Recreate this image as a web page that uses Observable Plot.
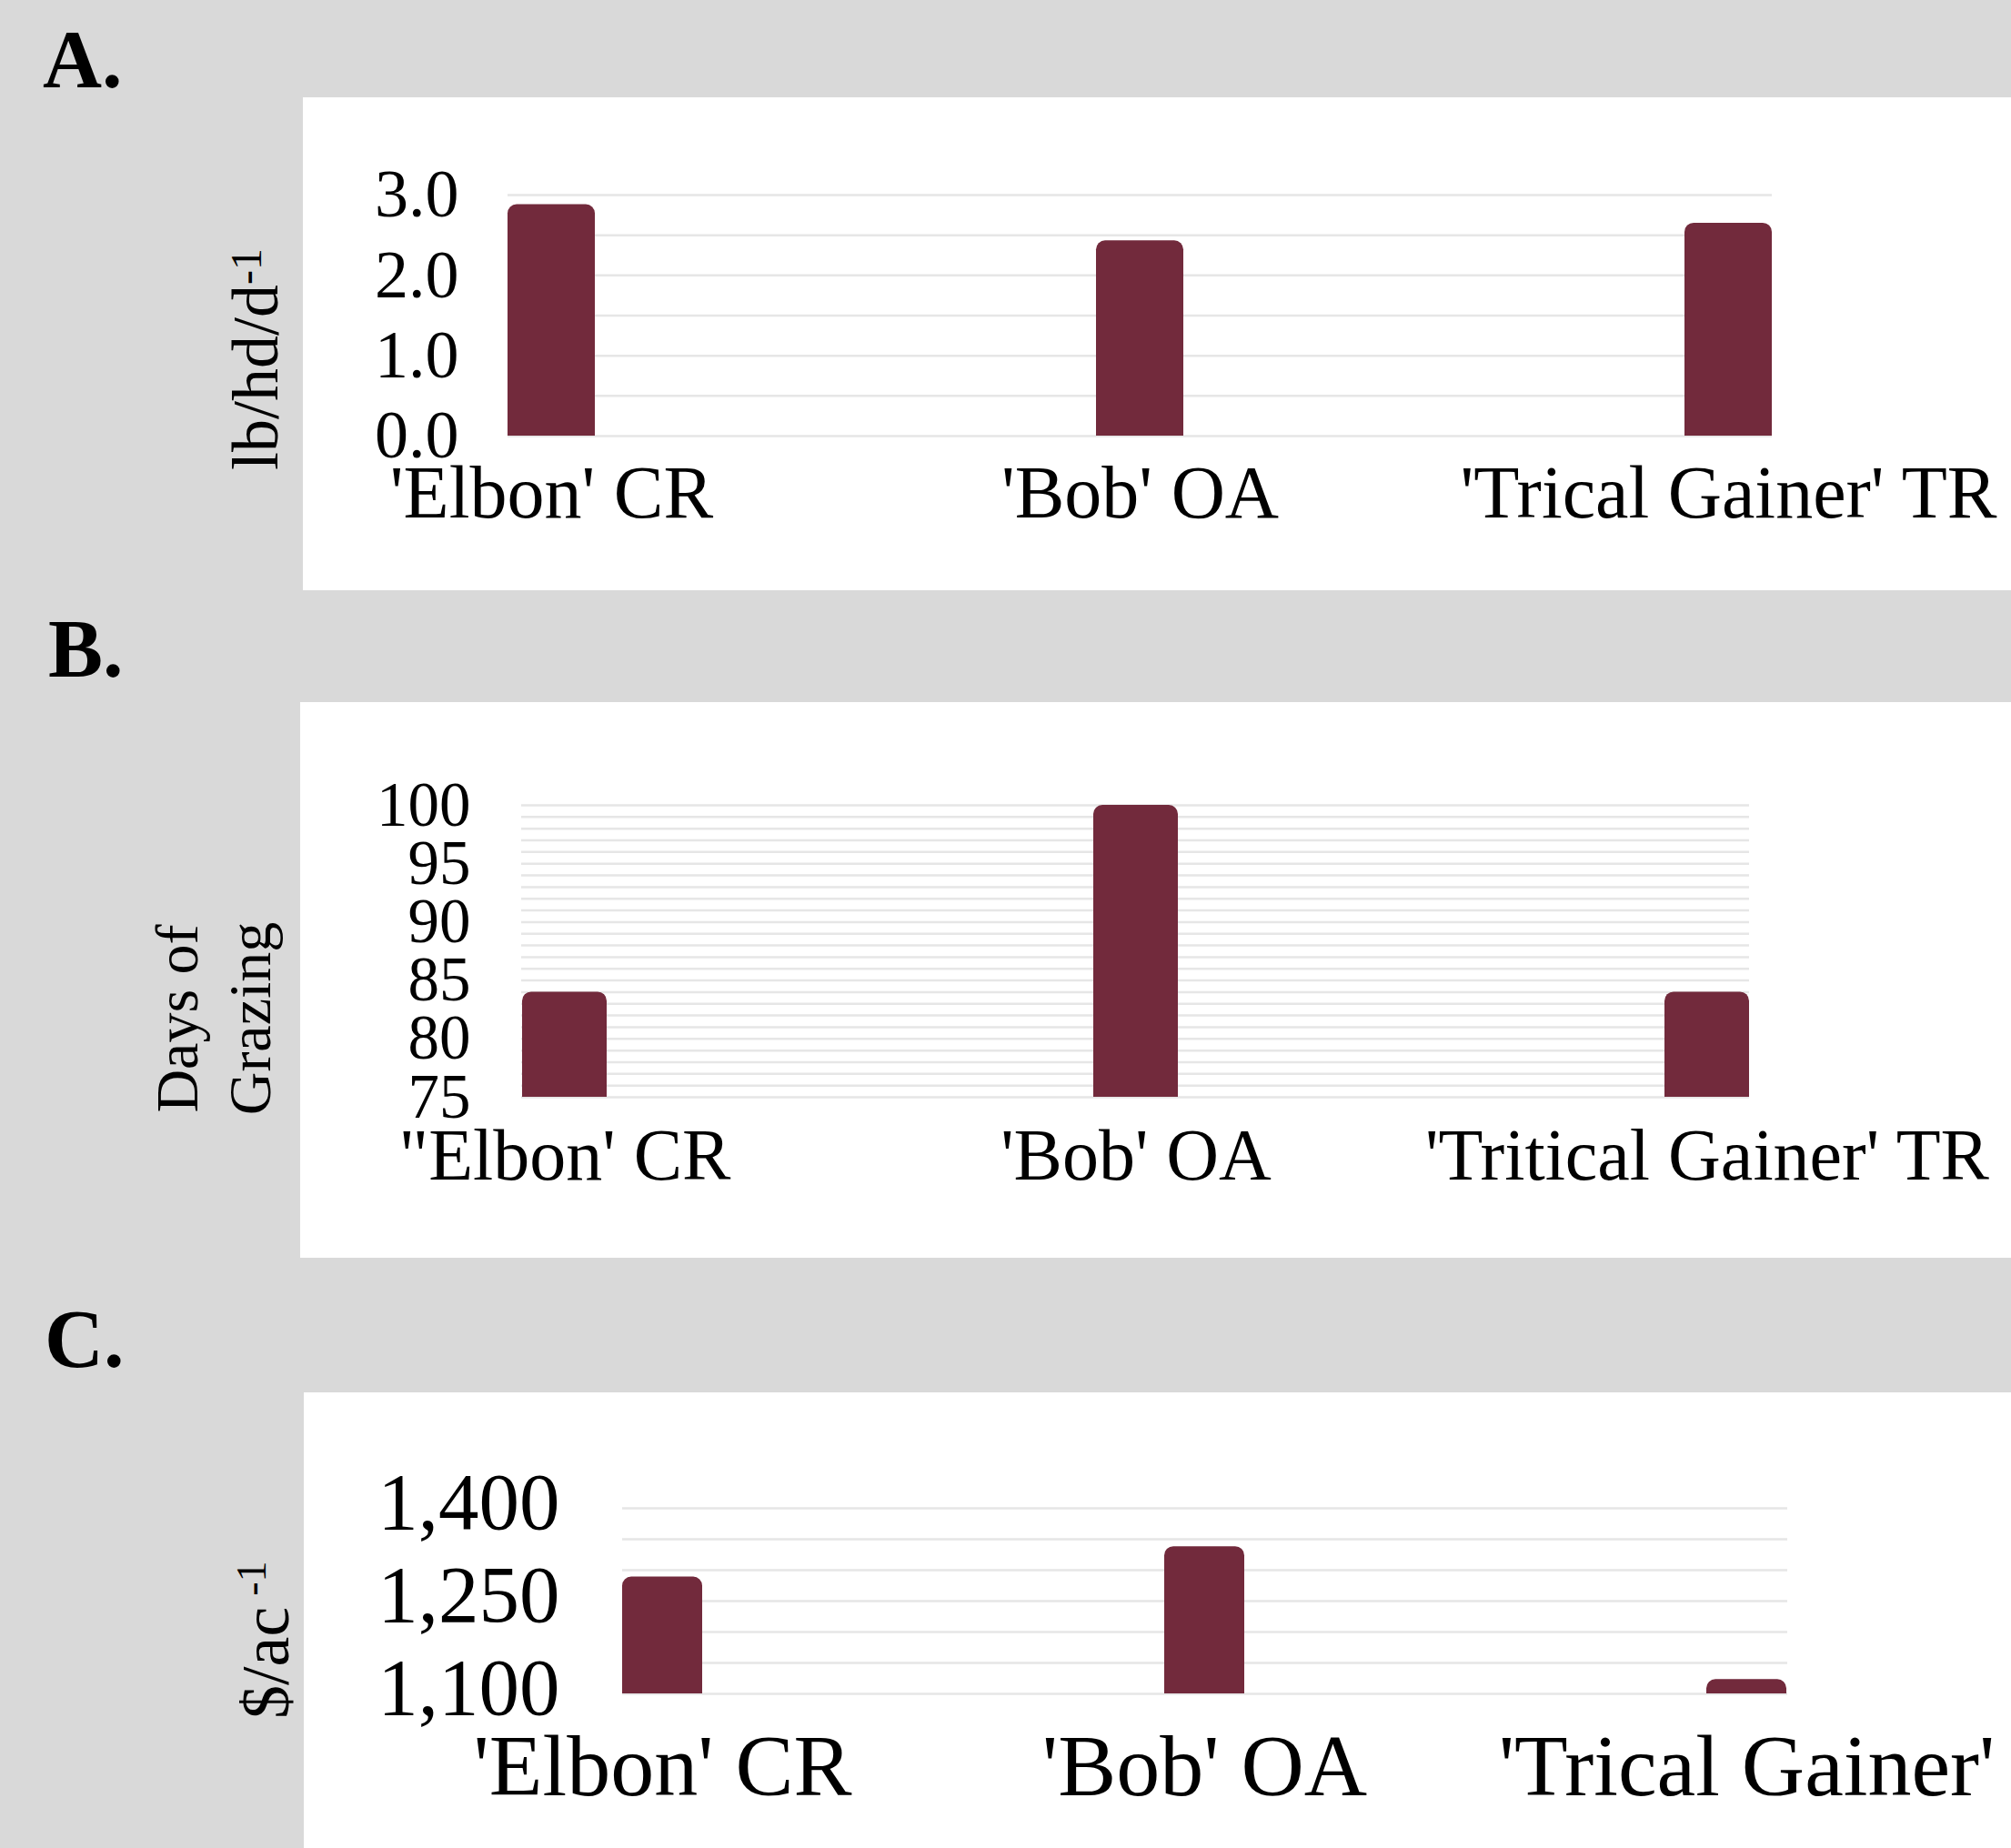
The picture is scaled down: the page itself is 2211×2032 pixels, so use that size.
<!DOCTYPE html>
<html>
<head>
<meta charset="utf-8">
<script src="https://cdn.jsdelivr.net/npm/d3@7"></script>
<script src="https://cdn.jsdelivr.net/npm/@observablehq/plot@0.6"></script>
<style>
html, body { margin: 0; padding: 0; background: #d9d9d9; width: 2211px; height: 2032px; overflow: hidden; }
.panel { position: absolute; background: #ffffff; }
.tag { position: absolute; font-family: "Liberation Serif", "Times New Roman", serif; font-weight: bold; font-size: 90px; line-height: 90px; color: #000; white-space: nowrap; }
svg { position: absolute; left: 0; }
</style>
</head>
<body>
<script>
// ---- Data ----
const catsA = ["'Elbon' CR", "'Bob' OA", "'Trical Gainer' TR"];
const gainA = [2.88, 2.43, 2.65];
const yTicksA = [0, 1, 2, 3];
const gridA = [0, 0.5, 1, 1.5, 2, 2.5, 3];

const catsB = ["\"Elbon' CR", "'Bob' OA", "'Tritical Gainer' TR"];
const daysB = [84, 100, 84];
const yTicksB = [75, 80, 85, 90, 95, 100];
const gridB = [75, 76, 77, 78, 79, 80, 81, 82, 83, 84, 85, 86, 87, 88, 89, 90, 91, 92, 93, 94, 95, 96, 97, 98, 99, 100];

const catsC = ["'Elbon' CR", "'Bob' OA", "'Trical Gainer'"];
const returnC = [1289, 1338, 1123];
const yTicksC = [1100, 1250, 1400];
const gridC = [1100, 1150, 1200, 1250, 1300, 1350, 1400];

const SERIF = "'Liberation Serif', 'Times New Roman', serif";
const BAR = "#722a3c";

function addDiv(cls, css, text) {
  const d = document.createElement("div");
  d.className = cls;
  Object.assign(d.style, css);
  if (text) d.textContent = text;
  document.body.appendChild(d);
  return d;
}

function panel(cfg) {
  const data = cfg.cats.map((c, i) => ({cat: c, v: cfg.vals[i], base: cfg.domain[0]}));
  const svg = Plot.plot({
    width: 2211,
    height: cfg.height,
    marginLeft: cfg.ml, marginRight: cfg.mr, marginTop: cfg.mt, marginBottom: cfg.mb,
    style: {fontFamily: SERIF, background: "transparent", color: "#000", overflow: "visible"},
    x: {type: "band", domain: cfg.cats, paddingInner: 0.852, paddingOuter: 0, align: 0.5},
    y: {domain: cfg.domain},
    marks: [
      Plot.gridY(cfg.grid, {stroke: "#e6e6e6", strokeOpacity: 1, strokeWidth: 2.5}),
      Plot.barY(data, {x: "cat", y1: "base", y2: "v", fill: BAR, ry1: 10}),
      Plot.axisY(cfg.ticks, {tickSize: 0, tickPadding: cfg.yPad, tickFormat: cfg.fmt, fontSize: cfg.yFont, dy: cfg.yDy || 0, label: null, fill: "#000"}),
      Plot.axisX({tickSize: 0, tickPadding: cfg.xPad, fontSize: cfg.xFont, label: null, fill: "#000"})
    ]
  });
  svg.style.top = cfg.top + "px";
  svg.style.left = "0px";
  svg.style.position = "absolute";
  svg.style.maxWidth = "none";
  document.body.appendChild(svg);
  return d3.select(svg);
}

// White panels
addDiv("panel", {left: "333px", top: "107px", width: "1878px", height: "542px"});
addDiv("panel", {left: "330px", top: "772px", width: "1881px", height: "611px"});
addDiv("panel", {left: "334px", top: "1531px", width: "1877px", height: "501px"});

// Panel tags
addDiv("tag", {left: "47px", top: "21px"}, "A.");
addDiv("tag", {left: "53px", top: "669px"}, "B.");
addDiv("tag", {left: "49px", top: "1428px"}, "C.");

// Panel A
const sA = panel({
  cats: catsA, vals: gainA, domain: [0, 3], ticks: yTicksA, grid: gridA,
  fmt: d => d.toFixed(1),
  top: 107, height: 542, ml: 558, mr: 263, mt: 107, mb: 170,
  yFont: 74, yPad: 54, xFont: 82, xPad: 31
});
const tA = sA.append("text")
  .attr("transform", "translate(305,410) rotate(-90)")
  .attr("font-family", SERIF).attr("font-size", 72).attr("fill", "#000").attr("text-anchor", "start");
tA.append("tspan").text("lb/hd/d");
tA.append("tspan").attr("font-size", 48).attr("dy", -18).text("-1");

// Panel B
const sB = panel({
  cats: catsB, vals: daysB, domain: [75, 100], ticks: yTicksB, grid: gridB,
  fmt: d => String(d),
  top: 772, height: 611, ml: 573, mr: 288, mt: 113, mb: 177,
  yFont: 69, yPad: 56, xFont: 80, xPad: 34
});
sB.append("text")
  .attr("transform", "translate(217,348) rotate(-90)")
  .attr("font-family", SERIF).attr("font-size", 66).attr("fill", "#000").attr("text-anchor", "middle")
  .text("Days of");
sB.append("text")
  .attr("transform", "translate(297,348) rotate(-90)")
  .attr("font-family", SERIF).attr("font-size", 66).attr("fill", "#000").attr("text-anchor", "middle")
  .text("Grazing");

// Panel C
const sC = panel({
  cats: catsC, vals: returnC, domain: [1100, 1400], ticks: yTicksC, grid: gridC,
  fmt: d => d3.format(",")(d),
  top: 1531, height: 501, ml: 684, mr: 246, mt: 127, mb: 170,
  yFont: 89, yPad: 69, yDy: -6, xFont: 96, xPad: 43
});
const tC = sC.append("text")
  .attr("transform", "translate(317,359) rotate(-90)")
  .attr("font-family", SERIF).attr("font-size", 74).attr("fill", "#000").attr("text-anchor", "start");
tC.append("tspan").text("$/ac");
tC.append("tspan").attr("font-size", 46).attr("dy", -25).attr("dx", 12).text("-1");
</script>
</body>
</html>
